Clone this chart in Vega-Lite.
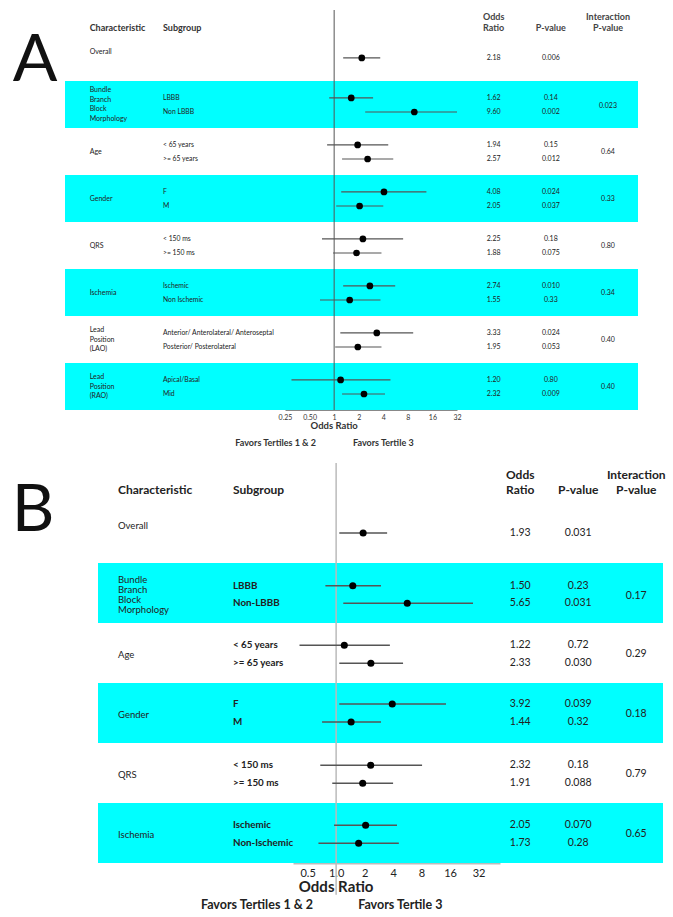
{
  "$schema": "https://vega.github.io/schema/vega-lite/v6.json",
  "padding": 0,
  "background": "white",
  "spacing": 10,
  "config": {
    "view": {"stroke": null},
    "text": {"font": "Lato"},
    "axis": {"labelFont": "Lato", "titleFont": "Lato"}
  },
  "datasets": {
    "rowsA": [
      {"sub": "", "or": 2.18, "lo": 1.29, "hi": 3.67, "pos": 0.51, "p": "0.006"},
      {"sub": "LBBB", "or": 1.62, "lo": 0.87, "hi": 3.0, "pos": 1.36, "p": "0.14"},
      {"sub": "Non LBBB", "or": 9.60, "lo": 2.4, "hi": 37, "pos": 1.66, "p": "0.002"},
      {"sub": "< 65 years", "or": 1.94, "lo": 0.82, "hi": 4.6, "pos": 2.36, "p": "0.15"},
      {"sub": ">= 65 years", "or": 2.57, "lo": 1.25, "hi": 5.3, "pos": 2.66, "p": "0.012"},
      {"sub": "F", "or": 4.08, "lo": 1.22, "hi": 13.5, "pos": 3.36, "p": "0.024"},
      {"sub": "M", "or": 2.05, "lo": 1.06, "hi": 4.0, "pos": 3.66, "p": "0.037"},
      {"sub": "< 150 ms", "or": 2.25, "lo": 0.71, "hi": 7.0, "pos": 4.36, "p": "0.18"},
      {"sub": ">= 150 ms", "or": 1.88, "lo": 0.97, "hi": 3.8, "pos": 4.66, "p": "0.075"},
      {"sub": "Ischemic", "or": 2.74, "lo": 1.29, "hi": 5.6, "pos": 5.36, "p": "0.010"},
      {"sub": "Non Ischemic", "or": 1.55, "lo": 0.67, "hi": 3.7, "pos": 5.66, "p": "0.33"},
      {"sub": "Anterior/ Anterolateral/ Anteroseptal", "or": 3.33, "lo": 1.19, "hi": 9.3, "pos": 6.36, "p": "0.024"},
      {"sub": "Posterior/ Posterolateral", "or": 1.95, "lo": 1.03, "hi": 3.8, "pos": 6.66, "p": "0.053"},
      {"sub": "Apical/Basal", "or": 1.20, "lo": 0.30, "hi": 4.9, "pos": 7.36, "p": "0.80"},
      {"sub": "Mid", "or": 2.32, "lo": 1.25, "hi": 4.2, "pos": 7.66, "p": "0.009"}
    ],
    "groupsA": [
      {"char": "Overall", "lab": 0.38, "mid": 0.38, "top": 0, "bottom": 0, "int": ""},
      {"char": "Bundle\nBranch\nBlock\nMorphology", "lab": 1.19, "mid": 1.53, "top": 1, "bottom": 2, "int": "0.023"},
      {"char": "Age", "lab": 2.52, "mid": 2.52, "top": 2, "bottom": 3, "int": "0.64"},
      {"char": "Gender", "lab": 3.52, "mid": 3.52, "top": 3, "bottom": 4, "int": "0.33"},
      {"char": "QRS", "lab": 4.52, "mid": 4.52, "top": 4, "bottom": 5, "int": "0.80"},
      {"char": "Ischemia", "lab": 5.52, "mid": 5.52, "top": 5, "bottom": 6, "int": "0.34"},
      {"char": "Lead\nPosition\n(LAO)", "lab": 6.3, "mid": 6.52, "top": 6, "bottom": 7, "int": "0.40"},
      {"char": "Lead\nPosition\n(RAO)", "lab": 7.3, "mid": 7.52, "top": 7, "bottom": 8, "int": "0.40"}
    ],
    "rowsB": [
      {"sub": "", "or": 1.93, "lo": 1.08, "hi": 3.46, "pos": 0.5, "p": "0.031"},
      {"sub": "LBBB", "or": 1.50, "lo": 0.77, "hi": 2.98, "pos": 1.38, "p": "0.23"},
      {"sub": "Non-LBBB", "or": 5.65, "lo": 1.19, "hi": 28, "pos": 1.67, "p": "0.031"},
      {"sub": "< 65 years", "or": 1.22, "lo": 0.41, "hi": 3.7, "pos": 2.37, "p": "0.72"},
      {"sub": ">= 65 years", "or": 2.33, "lo": 1.08, "hi": 5.1, "pos": 2.67, "p": "0.030"},
      {"sub": "F", "or": 3.92, "lo": 1.08, "hi": 14.5, "pos": 3.35, "p": "0.039"},
      {"sub": "M", "or": 1.44, "lo": 0.71, "hi": 2.98, "pos": 3.65, "p": "0.32"},
      {"sub": "< 150 ms", "or": 2.32, "lo": 0.68, "hi": 8.1, "pos": 4.37, "p": "0.18"},
      {"sub": ">= 150 ms", "or": 1.91, "lo": 0.91, "hi": 4.0, "pos": 4.67, "p": "0.088"},
      {"sub": "Ischemic", "or": 2.05, "lo": 0.95, "hi": 4.4, "pos": 5.37, "p": "0.070"},
      {"sub": "Non-Ischemic", "or": 1.73, "lo": 0.65, "hi": 4.6, "pos": 5.67, "p": "0.28"}
    ],
    "groupsB": [
      {"char": "Overall", "lab": 0.38, "mid": 0.38, "top": 0, "bottom": 0, "int": ""},
      {"char": "Bundle\nBranch\nBlock\nMorphology", "lab": 1.29, "mid": 1.55, "top": 1, "bottom": 2, "int": "0.17"},
      {"char": "Age", "lab": 2.53, "mid": 2.52, "top": 2, "bottom": 3, "int": "0.29"},
      {"char": "Gender", "lab": 3.53, "mid": 3.52, "top": 3, "bottom": 4, "int": "0.18"},
      {"char": "QRS", "lab": 4.53, "mid": 4.52, "top": 4, "bottom": 5, "int": "0.79"},
      {"char": "Ischemia", "lab": 5.53, "mid": 5.52, "top": 5, "bottom": 6, "int": "0.65"}
    ]
  },
  "vconcat": [
    {
      "bounds": "flush",
      "spacing": 0,
      "hconcat": [
        {
          "width": 65, "height": 410,
          "data": {"values": [{"t": "A", "pos": 0.585}]},
          "mark": {"type": "text", "fontSize": 66, "color": "#111"},
          "encoding": {
            "x": {"field": "t", "type": "nominal", "scale": {"type": "point", "align": 0.54}, "axis": null},
            "y": {"field": "pos", "type": "quantitative", "scale": {"type": "linear", "domain": [-0.723, 8], "reverse": true, "nice": false, "zero": false}, "axis": null},
            "text": {"field": "t"}
          }
        },
        {
          "width": 220, "height": 410,
          "layer": [
            {
              "data": {"name": "groupsA"},
              "transform": [{"filter": "datum.top % 2 == 1"}],
              "mark": {"type": "rect", "color": "#00FFFF"},
              "encoding": {
                "y": {"field": "top", "type": "quantitative", "scale": {"type": "linear", "domain": [-0.723, 8], "reverse": true, "nice": false, "zero": false}, "axis": null},
                "y2": {"field": "bottom"}
              }
            },
            {
              "data": {"values": [{"h": "Characteristic"}, {"h": "Subgroup"}]},
              "mark": {"type": "text", "align": "left", "fontSize": 9, "fontWeight": "bold", "color": "#333"},
              "encoding": {
                "x": {"field": "h", "type": "nominal", "scale": {"type": "point", "domain": ["Characteristic", "Subgroup"], "padding": 1.0375, "align": 0.168}, "axis": null},
                "y": {"datum": -0.128, "type": "quantitative"},
                "text": {"field": "h"}
              }
            },
            {
              "data": {"name": "groupsA"},
              "mark": {"type": "text", "align": "left", "fontSize": 7, "lineBreak": "\n", "lineHeight": 9.7, "color": "#222"},
              "encoding": {
                "x": {"datum": "Characteristic", "type": "nominal"},
                "y": {"field": "lab", "type": "quantitative"},
                "text": {"field": "char"}
              }
            },
            {
              "data": {"name": "rowsA"},
              "mark": {"type": "text", "align": "left", "fontSize": 6.8, "color": "#222"},
              "encoding": {
                "x": {"datum": "Subgroup", "type": "nominal"},
                "y": {"field": "pos", "type": "quantitative"},
                "text": {"field": "sub"}
              }
            }
          ]
        },
        {
          "width": 172, "height": 410,
          "layer": [
            {
              "data": {"name": "groupsA"},
              "transform": [{"filter": "datum.top % 2 == 1"}],
              "mark": {"type": "rect", "color": "#00FFFF"},
              "encoding": {
                "y": {"field": "top", "type": "quantitative", "scale": {"type": "linear", "domain": [-0.723, 8], "reverse": true, "nice": false, "zero": false}, "axis": null},
                "y2": {"field": "bottom"}
              }
            },
            {
              "data": {"values": [{}]},
              "mark": {"type": "rule", "color": "#555", "strokeWidth": 1},
              "encoding": {
                "x": {"datum": 1, "type": "quantitative", "scale": {"type": "log", "domain": [0.25, 32], "nice": false},
                  "axis": {"values": [0.25, 0.5, 1, 2, 4, 8, 16, 32], "ticks": false, "grid": false, "domainColor": "#888", "domainWidth": 1, "labelFontSize": 7, "labelColor": "#333", "labelPadding": 3, "title": null, "labelFlush": false, "labelOverlap": false, "labelExpr": "datum.value < 1 ? format(datum.value, '.2f') : format(datum.value, 'd')"}},
                "y": {"datum": -0.51, "type": "quantitative"},
                "y2": {"datum": 8}
              }
            },
            {
              "data": {"name": "rowsA"},
              "mark": {"type": "rule", "color": "#555", "strokeWidth": 1.2},
              "encoding": {
                "x": {"field": "lo", "type": "quantitative"},
                "x2": {"field": "hi"},
                "y": {"field": "pos", "type": "quantitative"}
              }
            },
            {
              "data": {"name": "rowsA"},
              "mark": {"type": "circle", "color": "black", "opacity": 1, "size": 45},
              "encoding": {
                "x": {"field": "or", "type": "quantitative"},
                "y": {"field": "pos", "type": "quantitative"}
              }
            },
            {
              "data": {"values": [{}]},
              "mark": {"type": "text", "text": "Odds Ratio", "fontSize": 9.5, "fontWeight": "bold", "color": "#333"},
              "encoding": {"x": {"datum": 1, "type": "quantitative"}, "y": {"datum": 8.34, "type": "quantitative"}}
            },
            {
              "data": {"values": [{}]},
              "mark": {"type": "text", "text": "Favors Tertiles 1 & 2", "align": "right", "fontSize": 9, "fontWeight": "bold", "color": "#333"},
              "encoding": {"x": {"datum": 0.6, "type": "quantitative"}, "y": {"datum": 8.7, "type": "quantitative"}}
            },
            {
              "data": {"values": [{}]},
              "mark": {"type": "text", "text": "Favors Tertile 3", "align": "left", "fontSize": 9, "fontWeight": "bold", "color": "#333"},
              "encoding": {"x": {"datum": 1.7, "type": "quantitative"}, "y": {"datum": 8.7, "type": "quantitative"}}
            }
          ]
        },
        {
          "width": 181, "height": 410,
          "layer": [
            {
              "data": {"name": "groupsA"},
              "transform": [{"filter": "datum.top % 2 == 1"}],
              "mark": {"type": "rect", "color": "#00FFFF"},
              "encoding": {
                "y": {"field": "top", "type": "quantitative", "scale": {"type": "linear", "domain": [-0.723, 8], "reverse": true, "nice": false, "zero": false}, "axis": null},
                "y2": {"field": "bottom"}
              }
            },
            {
              "data": {"values": [{"h": "Odds Ratio", "t": "Odds\nRatio", "hy": -0.362}, {"h": "P-value", "t": "P-value", "hy": -0.128}, {"h": "Interaction P-value", "t": "Interaction\nP-value", "hy": -0.362}]},
              "mark": {"type": "text", "lineBreak": "\n", "lineHeight": 11, "fontSize": 9, "fontWeight": "bold", "color": "#444"},
              "encoding": {
                "x": {"field": "h", "type": "nominal", "scale": {"type": "point", "domain": ["Odds Ratio", "P-value", "Interaction P-value"], "padding": 0.583, "align": 0.55}, "axis": null},
                "y": {"field": "hy", "type": "quantitative"},
                "text": {"field": "t"}
              }
            },
            {
              "data": {"name": "rowsA"},
              "mark": {"type": "text", "fontSize": 7, "color": "#222"},
              "encoding": {
                "x": {"datum": "Odds Ratio", "type": "nominal"},
                "y": {"field": "pos", "type": "quantitative"},
                "text": {"field": "or", "type": "quantitative", "format": ".2f"}
              }
            },
            {
              "data": {"name": "rowsA"},
              "mark": {"type": "text", "fontSize": 7, "color": "#222"},
              "encoding": {
                "x": {"datum": "P-value", "type": "nominal"},
                "y": {"field": "pos", "type": "quantitative"},
                "text": {"field": "p"}
              }
            },
            {
              "data": {"name": "groupsA"},
              "transform": [{"filter": "datum.int != ''"}],
              "mark": {"type": "text", "fontSize": 7, "color": "#222"},
              "encoding": {
                "x": {"datum": "Interaction P-value", "type": "nominal"},
                "y": {"field": "mid", "type": "quantitative"},
                "text": {"field": "int"}
              }
            }
          ]
        }
      ]
    },
    {
      "bounds": "flush",
      "spacing": 0,
      "hconcat": [
        {
          "width": 98, "height": 405,
          "data": {"values": [{"t": "B", "pos": 0.133}]},
          "mark": {"type": "text", "fontSize": 66, "color": "#111"},
          "encoding": {
            "x": {"field": "t", "type": "nominal", "scale": {"type": "point", "align": 0.337}, "axis": null},
            "y": {"field": "pos", "type": "quantitative", "scale": {"type": "linear", "domain": [-0.75, 6], "reverse": true, "nice": false, "zero": false}, "axis": null},
            "text": {"field": "t"}
          }
        },
        {
          "width": 195, "height": 405,
          "layer": [
            {
              "data": {"name": "groupsB"},
              "transform": [{"filter": "datum.top % 2 == 1"}],
              "mark": {"type": "rect", "color": "#00FFFF"},
              "encoding": {
                "y": {"field": "top", "type": "quantitative", "scale": {"type": "linear", "domain": [-0.75, 6], "reverse": true, "nice": false, "zero": false}, "axis": null},
                "y2": {"field": "bottom"}
              }
            },
            {
              "data": {"values": [{"h": "Characteristic"}, {"h": "Subgroup"}]},
              "mark": {"type": "text", "align": "left", "fontSize": 12, "fontWeight": "bold", "color": "#222"},
              "encoding": {
                "x": {"field": "h", "type": "nominal", "scale": {"type": "point", "domain": ["Characteristic", "Subgroup"], "padding": 0.348, "align": 0.25}, "axis": null},
                "y": {"datum": -0.217, "type": "quantitative"},
                "text": {"field": "h"}
              }
            },
            {
              "data": {"name": "groupsB"},
              "mark": {"type": "text", "align": "left", "fontSize": 9.5, "lineBreak": "\n", "lineHeight": 9.8, "color": "#222"},
              "encoding": {
                "x": {"datum": "Characteristic", "type": "nominal"},
                "y": {"field": "lab", "type": "quantitative"},
                "text": {"field": "char"}
              }
            },
            {
              "data": {"name": "rowsB"},
              "mark": {"type": "text", "align": "left", "fontSize": 9.8, "fontWeight": "bold", "color": "#222"},
              "encoding": {
                "x": {"datum": "Subgroup", "type": "nominal"},
                "y": {"field": "pos", "type": "quantitative"},
                "text": {"field": "sub"}
              }
            }
          ]
        },
        {
          "width": 207, "height": 405,
          "layer": [
            {
              "data": {"name": "groupsB"},
              "transform": [{"filter": "datum.top % 2 == 1"}],
              "mark": {"type": "rect", "color": "#00FFFF"},
              "encoding": {
                "y": {"field": "top", "type": "quantitative", "scale": {"type": "linear", "domain": [-0.75, 6], "reverse": true, "nice": false, "zero": false}, "axis": null},
                "y2": {"field": "bottom"}
              }
            },
            {
              "data": {"values": [{}]},
              "mark": {"type": "rule", "color": "#bbb", "strokeWidth": 1.5},
              "encoding": {
                "x": {"datum": 1, "type": "quantitative", "scale": {"type": "log", "domain": [0.35, 54], "nice": false},
                  "axis": {"values": [0.5, 1, 2, 4, 8, 16, 32], "ticks": false, "grid": false, "domainColor": "#bbb", "domainWidth": 2, "labelFontSize": 11, "labelColor": "#222", "labelPadding": 4, "title": null, "labelFlush": false, "labelOverlap": false, "labelExpr": "datum.value == 1 ? '1.0' : datum.value < 1 ? format(datum.value, '.1f') : format(datum.value, 'd')"}},
                "y": {"datum": -0.667, "type": "quantitative"},
                "y2": {"datum": 6.53}
              }
            },
            {
              "data": {"name": "rowsB"},
              "mark": {"type": "rule", "color": "#555", "strokeWidth": 1.4},
              "encoding": {
                "x": {"field": "lo", "type": "quantitative"},
                "x2": {"field": "hi"},
                "y": {"field": "pos", "type": "quantitative"}
              }
            },
            {
              "data": {"name": "rowsB"},
              "mark": {"type": "circle", "color": "black", "opacity": 1, "size": 50},
              "encoding": {
                "x": {"field": "or", "type": "quantitative"},
                "y": {"field": "pos", "type": "quantitative"}
              }
            },
            {
              "data": {"values": [{}]},
              "mark": {"type": "text", "text": "Odds Ratio", "fontSize": 15, "fontWeight": "bold", "color": "#222"},
              "encoding": {"x": {"datum": 1, "type": "quantitative"}, "y": {"datum": 6.4, "type": "quantitative"}}
            },
            {
              "data": {"values": [{}]},
              "mark": {"type": "text", "text": "Favors Tertiles 1 & 2", "align": "right", "fontSize": 12.5, "fontWeight": "bold", "color": "#222"},
              "encoding": {"x": {"datum": 0.57, "type": "quantitative"}, "y": {"datum": 6.7, "type": "quantitative"}}
            },
            {
              "data": {"values": [{}]},
              "mark": {"type": "text", "text": "Favors Tertile 3", "align": "left", "fontSize": 12.5, "fontWeight": "bold", "color": "#222"},
              "encoding": {"x": {"datum": 1.71, "type": "quantitative"}, "y": {"datum": 6.7, "type": "quantitative"}}
            }
          ]
        },
        {
          "width": 163, "height": 405,
          "layer": [
            {
              "data": {"name": "groupsB"},
              "transform": [{"filter": "datum.top % 2 == 1"}],
              "mark": {"type": "rect", "color": "#00FFFF"},
              "encoding": {
                "y": {"field": "top", "type": "quantitative", "scale": {"type": "linear", "domain": [-0.75, 6], "reverse": true, "nice": false, "zero": false}, "axis": null},
                "y2": {"field": "bottom"}
              }
            },
            {
              "data": {"values": [{"h": "Odds Ratio", "t": "Odds\nRatio", "hy": -0.467}, {"h": "P-value", "t": "P-value", "hy": -0.217}, {"h": "Interaction P-value", "t": "Interaction\nP-value", "hy": -0.467}]},
              "mark": {"type": "text", "lineBreak": "\n", "lineHeight": 15, "fontSize": 12, "fontWeight": "bold", "color": "#222"},
              "encoding": {
                "x": {"field": "h", "type": "nominal", "scale": {"type": "point", "domain": ["Odds Ratio", "P-value", "Interaction P-value"], "padding": 0.405, "align": 0.43}, "axis": null},
                "y": {"field": "hy", "type": "quantitative"},
                "text": {"field": "t"}
              }
            },
            {
              "data": {"name": "rowsB"},
              "mark": {"type": "text", "fontSize": 10.5, "color": "#222"},
              "encoding": {
                "x": {"datum": "Odds Ratio", "type": "nominal"},
                "y": {"field": "pos", "type": "quantitative"},
                "text": {"field": "or", "type": "quantitative", "format": ".2f"}
              }
            },
            {
              "data": {"name": "rowsB"},
              "mark": {"type": "text", "fontSize": 10.5, "color": "#222"},
              "encoding": {
                "x": {"datum": "P-value", "type": "nominal"},
                "y": {"field": "pos", "type": "quantitative"},
                "text": {"field": "p"}
              }
            },
            {
              "data": {"name": "groupsB"},
              "transform": [{"filter": "datum.int != ''"}],
              "mark": {"type": "text", "fontSize": 10.5, "color": "#222"},
              "encoding": {
                "x": {"datum": "Interaction P-value", "type": "nominal"},
                "y": {"field": "mid", "type": "quantitative"},
                "text": {"field": "int"}
              }
            }
          ]
        }
      ]
    }
  ]
}
